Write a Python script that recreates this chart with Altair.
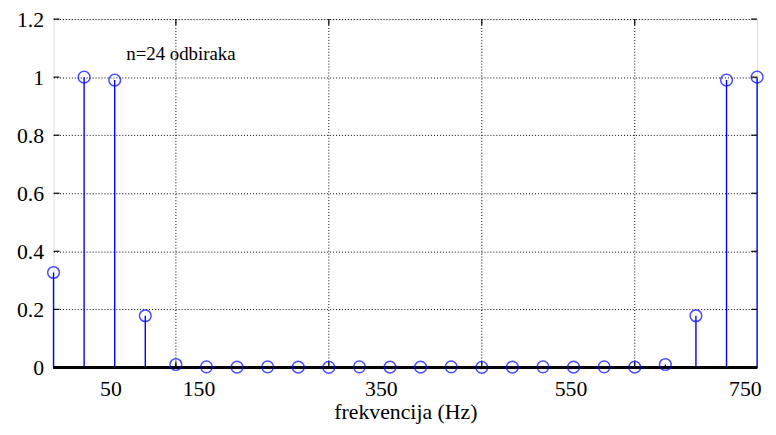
import altair as alt
import pandas as pd

# sample index (0..23) and magnitude
idx = list(range(24))
mag = [0.327, 1.0, 0.99, 0.178, 0.01, 0.002, 0.001, 0.002, 0.001, 0.0, 0.002, 0.001,
       0.001, 0.002, 0.0, 0.001, 0.002, 0.001, 0.002, 0.001, 0.01, 0.178, 0.99, 1.0]

# grid positions (index units) and tick-label positions / texts
grid_x = [4, 9, 14, 19]
label_pos = [1.86, 4.74, 10.7, 16.9, 22.6]
label_txt = ["50", "150", "350", "550", "750"]
y_ticks = [0, 0.2, 0.4, 0.6, 0.8, 1.0, 1.2]
note_text = "n=24 odbiraka"
note_x, note_y = 2.38, 1.078

W, H = 711, 352
FONT = "Liberation Serif"

df = pd.DataFrame({"k": idx, "m": mag})
gdf = pd.DataFrame({"g": grid_x})
ydf = pd.DataFrame({"t": y_ticks})

lab_map = "{" + ",".join(f"'{p}':'{t}'" for p, t in zip(label_pos, label_txt)) + "}"

xscale = alt.Scale(domain=[0, 23], nice=False, zero=False)
yscale = alt.Scale(domain=[0, 1.2], nice=False)

xenc = alt.X("k:Q", scale=xscale,
             axis=alt.Axis(values=label_pos, labelExpr=f"{lab_map}[toString(datum.value)]",
                           grid=False, ticks=False, domain=False,
                           labelFont=FONT, labelFontSize=22, labelColor="black",
                           labelPadding=11, labelFlush=False, labelOverlap=False,
                           title="frekvencija (Hz)", titleFont=FONT, titleFontSize=22,
                           titleFontWeight="normal", titleColor="black", titlePadding=3))
yenc = alt.Y("m:Q", scale=yscale,
             axis=alt.Axis(values=y_ticks, grid=True, gridColor="black", gridDash=[1, 2],
                           gridWidth=1, ticks=False, domain=False,
                           labelFont=FONT, labelFontSize=22, labelColor="black",
                           labelPadding=10, labelFlush=False,
                           format="~g", title=None))

base = alt.Chart(df)

# vertical grid
vgrid = alt.Chart(gdf).mark_rule(color="black", strokeDash=[1, 2], strokeWidth=1).encode(
    x=alt.X("g:Q", scale=xscale), y=alt.value(0), y2=alt.value(H))
# inward ticks top/bottom
ttop = alt.Chart(gdf).mark_rule(color="black", strokeWidth=1.2).encode(
    x=alt.X("g:Q", scale=xscale), y=alt.value(0), y2=alt.value(6))
tbot = alt.Chart(gdf).mark_rule(color="black", strokeWidth=1.2).encode(
    x=alt.X("g:Q", scale=xscale), y=alt.value(H), y2=alt.value(H - 6))
# inward ticks left/right
tleft = alt.Chart(ydf).mark_rule(color="black", strokeWidth=1.2).encode(
    y=alt.Y("t:Q", scale=yscale), x=alt.value(0), x2=alt.value(6))
tright = alt.Chart(ydf).mark_rule(color="black", strokeWidth=1.2).encode(
    y=alt.Y("t:Q", scale=yscale), x=alt.value(W - 6), x2=alt.value(W))

stems = base.mark_rule(color="#0000ff", strokeWidth=1.4).encode(
    x=xenc, y=yenc, y2=alt.datum(0))
# zero line
zline = alt.Chart(ydf).mark_rule(color="black", strokeWidth=2).encode(
    x=alt.value(0), x2=alt.value(W), y=alt.datum(0))
dots = base.mark_point(shape="circle", filled=False, color="#0000ff", size=140,
                       strokeWidth=1.5).encode(x="k:Q", y="m:Q")

note = alt.Chart(pd.DataFrame({"x": [note_x], "y": [note_y], "t": [note_text]})).mark_text(
    font=FONT, fontSize=19, align="left", baseline="middle", color="black").encode(
    x=alt.X("x:Q", scale=xscale), y=alt.Y("y:Q", scale=yscale), text="t:N")

chart = alt.layer(stems, vgrid, ttop, tbot, tleft, tright, zline, dots, note).properties(
    width=W, height=H,
    autosize=alt.AutoSizeParams(type="none"),
    padding={"left": 46, "top": 9, "right": 11, "bottom": 58},
).configure_view(stroke="black", strokeWidth=1.6).configure(background="white")

chart.save("out.html", embed_options={"renderer": "svg", "actions": False})
